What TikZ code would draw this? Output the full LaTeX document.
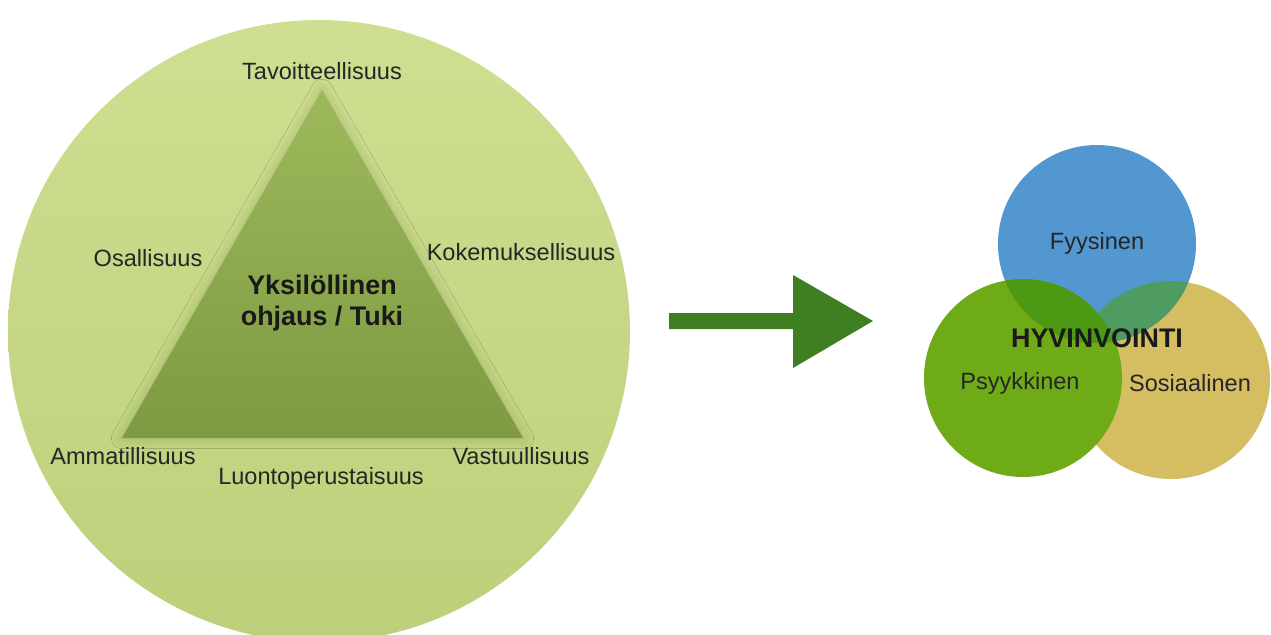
\documentclass[tikz,border=0pt]{standalone}
\usepackage{fontspec}
\setmainfont{Liberation Sans}
\usetikzlibrary{shadows.blur}
\definecolor{outertop}{HTML}{CEDF91}
\definecolor{outerbot}{HTML}{BCD07A}
\definecolor{tritop}{HTML}{9DB95B}
\definecolor{tribot}{HTML}{7E9A42}
\definecolor{arrowgreen}{HTML}{3F7F22}
\definecolor{fysblue}{HTML}{5397D0}
\definecolor{psygreen}{HTML}{6FAB16}
\definecolor{sosyellow}{HTML}{D5BE62}
\definecolor{blueyellow}{HTML}{4E9C62}
\definecolor{bluegreen}{HTML}{4C9913}
\tikzset{
  lbl/.style={font=\fontsize{13.4}{16}\selectfont,text=black!85},
  core/.style={font=\fontsize{15.3}{18}\selectfont\bfseries,align=center,text=black!90}
}
\begin{document}
\begin{tikzpicture}[x=0.02cm,y=-0.02cm]
\useasboundingbox(0,0)rectangle(1271,635);
%outer circle and triangle
\shade[top color=outertop,bottom color=outerbot](319,331)circle[radius=311];
\shade[top color=tritop,bottom color=tribot,blur shadow={shadow xshift=0pt,shadow yshift=0pt,shadow blur radius=6pt,shadow opacity=18}](322,90)--(122,438)--(523,438)--cycle;
\node[core](tuki)at(322,303){Yksilöllinen\\ohjaus / Tuki};
%labels round the triangle
\node[lbl](tav)at(322,71){Tavoitteellisuus};
\node[lbl](osa)at(148,258){Osallisuus};
\node[lbl](kok)at(521,252){Kokemuksellisuus};
\node[lbl](amm)at(123,456){Ammatillisuus};
\node[lbl](luo)at(321,478){Luontoperustaisuus};
\node[lbl](vas)at(521,456){Vastuullisuus};
%arrow
\fill[arrowgreen](669,313)--(793,313)--(793,275)--(873,321)--(793,368)--(793,329)--(669,329)--cycle;
%venn
\fill[sosyellow](1171,380)circle[radius=99];
\fill[fysblue](1097,244)circle[radius=99];
\begin{scope}
\clip(1097,244)circle[radius=99];
\fill[blueyellow](1171,380)circle[radius=99];
\end{scope}
\fill[psygreen](1023,378)circle[radius=99];
\begin{scope}
\clip(1097,244)circle[radius=99];
\fill[bluegreen](1023,378)circle[radius=99];
\end{scope}
\node[lbl](fys)at(1097,243){Fyysinen};
\node[lbl](psy)at(1020,383){Psyykkinen};
\node[lbl](sos)at(1190,383){Sosiaalinen};
\node[core](hyv)at(1097,338){HYVINVOINTI};
\end{tikzpicture}
\end{document}
